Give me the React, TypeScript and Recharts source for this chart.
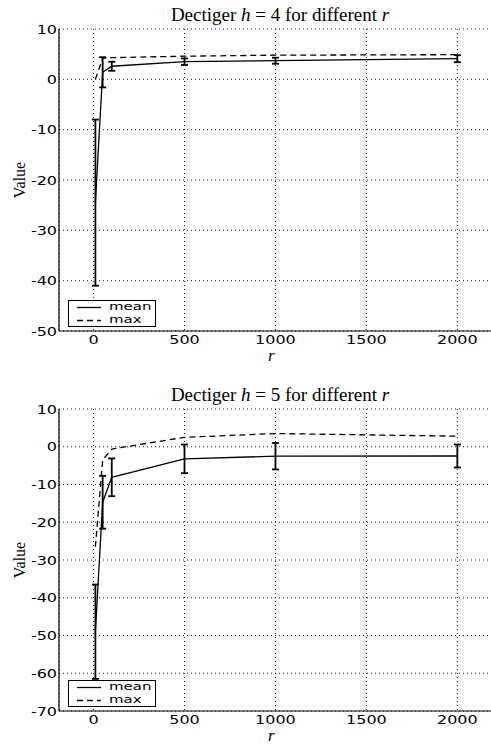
import React from "react";
import { LineChart, Line, XAxis, YAxis, CartesianGrid, ErrorBar } from "recharts";

const rValues = [10, 50, 100, 500, 1000, 2000];

const meanH4 = [-24.5, 1.4, 2.6, 3.5, 3.7, 4.1];
const errH4 = [16.5, 3.0, 0.9, 0.65, 0.6, 0.7];
const maxH4 = [0, 4.2, 4.3, 4.6, 4.8, 4.9];

const meanH5 = [-49, -14.7, -8.1, -3.2, -2.5, -2.45];
const errH5 = [12.5, 7, 5, 3.8, 3.5, 3.05];
const maxH5 = [-26.5, -3.5, -0.6, 2.5, 3.5, 2.8];

const xTicks = [0, 500, 1000, 1500, 2000];
const yTicksH4 = [-50, -40, -30, -20, -10, 0, 10];
const yTicksH5 = [-70, -60, -50, -40, -30, -20, -10, 0, 10];

const SX = 1.28;
const tickFont = "DejaVu Sans, sans-serif";
const serif = "Liberation Serif, Times New Roman, serif";

const XTick = (props: any) => {
  const { x, y, payload } = props;
  return (
    <text
      transform={`translate(${x},${y}) scale(${SX},1)`}
      textAnchor="middle"
      dy="0.75em"
      fontFamily={tickFont}
      fontSize={12.5}
      fill="#000"
    >
      {payload.value}
    </text>
  );
};

const YTick = (props: any) => {
  const { x, y, payload } = props;
  return (
    <text
      transform={`translate(${x},${y}) scale(${SX},1)`}
      textAnchor="end"
      dy="0.36em"
      fontFamily={tickFont}
      fontSize={12.5}
      fill="#000"
    >
      {payload.value}
    </text>
  );
};

const LegendBox = () => (
  <div
    style={{
      position: "absolute",
      left: 68,
      top: 300,
      width: 86,
      height: 25,
      border: "1px solid #000",
      background: "#fff",
      fontFamily: tickFont,
      fontSize: 11,
    }}
  >
    {[
      { label: "mean", dash: undefined, top: 0 },
      { label: "max", dash: "6 4", top: 12.5 },
    ].map((it) => (
      <div key={it.label} style={{ position: "absolute", left: 0, top: it.top, height: 12.5, width: 86 }}>
        <svg width={30} height={12} style={{ position: "absolute", left: 8, top: 0 }}>
          <line x1={0} y1={6.5} x2={24} y2={6.5} stroke="#000" strokeWidth={1.3} strokeDasharray={it.dash} />
        </svg>
        <span
          style={{
            position: "absolute",
            left: 40,
            top: 0,
            lineHeight: "12.5px",
            transform: "scaleX(1.36)",
            transformOrigin: "left center",
            whiteSpace: "nowrap",
          }}
        >
          {it.label}
        </span>
      </div>
    ))}
  </div>
);

function Panel({ top, h, mean, err, max, yDomain, yTicks, rTop }: any) {
  const data = rValues.map((r, i) => ({ r, mean: mean[i], err: err[i], max: max[i] }));
  return (
    <div style={{ position: "absolute", left: 0, top, width: 520, height: 372 }}>
      <LineChart width={520} height={372} data={data} margin={{ top: 29, right: 19, bottom: 11, left: 0 }}>
        <CartesianGrid stroke="#000" strokeDasharray="1 3" strokeWidth={0.9} />
        <XAxis
          xAxisId="top"
          orientation="top"
          type="number"
          dataKey="r"
          domain={[-190, 2240]}
          allowDataOverflow
          ticks={xTicks}
          tick={false}
          tickLine={false}
          height={0}
          axisLine={{ stroke: "#000", strokeWidth: 1.2 }}
        />
        <XAxis
          type="number"
          dataKey="r"
          domain={[-190, 2240]}
          allowDataOverflow
          ticks={xTicks}
          tick={<XTick />}
          tickLine={false}
          tickSize={0}
          tickMargin={4}
          height={30}
          axisLine={{ stroke: "#000", strokeWidth: 1.2 }}
        />
        <YAxis
          type="number"
          domain={yDomain}
          ticks={yTicks}
          allowDataOverflow
          width={59}
          tick={<YTick />}
          tickLine={false}
          tickSize={0}
          tickMargin={2}
          axisLine={{ stroke: "#000", strokeWidth: 1.2 }}
        />
        <Line
          dataKey="max"
          type="linear"
          stroke="#000"
          strokeWidth={1.3}
          strokeDasharray="6 4"
          dot={false}
          isAnimationActive={false}
        />
        <Line dataKey="mean" type="linear" stroke="#000" strokeWidth={1.3} dot={false} isAnimationActive={false}>
          <ErrorBar dataKey="err" width={3.5} stroke="#000" strokeWidth={1.8} direction="y" />
        </Line>
      </LineChart>
      <div
        style={{
          position: "absolute",
          left: 59,
          width: 442,
          top: 4,
          textAlign: "center",
          fontFamily: serif,
          fontSize: 19,
          lineHeight: "22px",
          color: "#000",
        }}
      >
        Dectiger <i>h</i>&nbsp;=&nbsp;{h} for different <i>r</i>
      </div>
      <div style={{ position: "absolute", left: 20, top: 180, width: 0, height: 0 }}>
        <div
          style={{
            position: "absolute",
            transform: "translate(-50%,-50%) rotate(-90deg)",
            fontFamily: serif,
            fontSize: 16,
            whiteSpace: "nowrap",
          }}
        >
          Value
        </div>
      </div>
      <div
        style={{
          position: "absolute",
          left: 268,
          top: rTop,
          fontFamily: serif,
          fontStyle: "italic",
          fontSize: 17,
          lineHeight: "14px",
        }}
      >
        r
      </div>
      <LegendBox />
    </div>
  );
}

export default function App() {
  return (
    <div style={{ position: "absolute", left: 0, top: 0, width: 491, height: 744, overflow: "hidden", background: "#fff" }}>
      <Panel top={0} h={4} mean={meanH4} err={errH4} max={maxH4} yDomain={[-50, 10]} yTicks={yTicksH4} rTop={349} />
      <Panel top={380} h={5} mean={meanH5} err={errH5} max={maxH5} yDomain={[-70, 10]} yTicks={yTicksH5} rTop={349} />
    </div>
  );
}
